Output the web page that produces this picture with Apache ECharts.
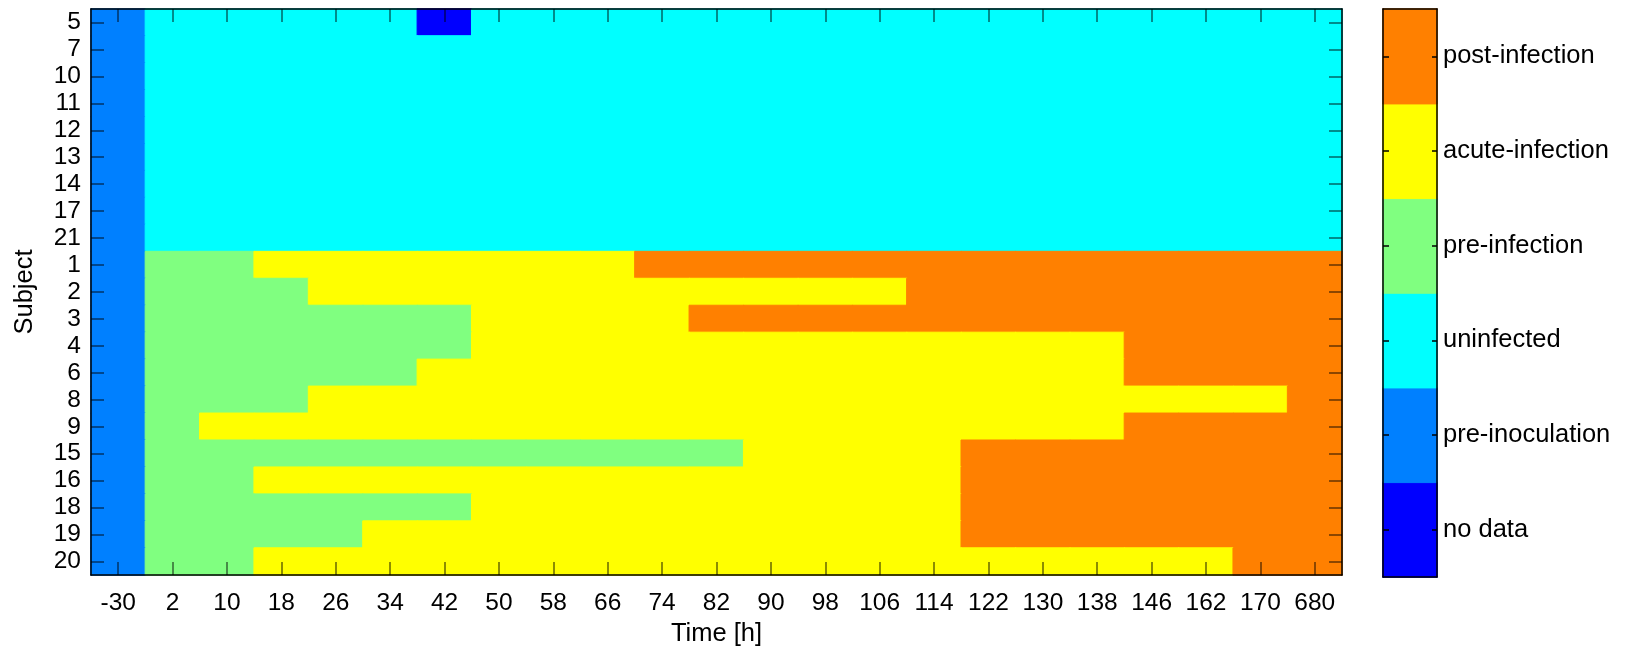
<!DOCTYPE html>
<html><head><meta charset="utf-8">
<script src="https://cdn.jsdelivr.net/npm/echarts@6/dist/echarts.min.js"></script>
<style>html,body{margin:0;padding:0;background:#fff}#c{width:1631px;height:646px}</style>
</head><body><div id="c"></div>
<script>
const timeLabels = ['-30','2','10','18','26','34','42','50','58','66','74','82','90','98','106','114','122','130','138','146','162','170','680'];
const subjects = ['5','7','10','11','12','13','14','17','21','1','2','3','4','6','8','9','15','16','18','19','20'];
const stateNames = ['no data','pre-inoculation','uninfected','pre-infection','acute-infection','post-infection'];
const stateColors = ['#0000FF','#0080FF','#00FFFF','#80FF80','#FFFF00','#FF8000'];

// state codes: 0 no data, 1 pre-inoculation, 2 uninfected, 3 pre-infection, 4 acute-infection, 5 post-infection
const s5  = [1,2,2,2,2,2,0,2,2,2,2,2,2,2,2,2,2,2,2,2,2,2,2];
const s7  = [1,2,2,2,2,2,2,2,2,2,2,2,2,2,2,2,2,2,2,2,2,2,2];
const s10 = [1,2,2,2,2,2,2,2,2,2,2,2,2,2,2,2,2,2,2,2,2,2,2];
const s11 = [1,2,2,2,2,2,2,2,2,2,2,2,2,2,2,2,2,2,2,2,2,2,2];
const s12 = [1,2,2,2,2,2,2,2,2,2,2,2,2,2,2,2,2,2,2,2,2,2,2];
const s13 = [1,2,2,2,2,2,2,2,2,2,2,2,2,2,2,2,2,2,2,2,2,2,2];
const s14 = [1,2,2,2,2,2,2,2,2,2,2,2,2,2,2,2,2,2,2,2,2,2,2];
const s17 = [1,2,2,2,2,2,2,2,2,2,2,2,2,2,2,2,2,2,2,2,2,2,2];
const s21 = [1,2,2,2,2,2,2,2,2,2,2,2,2,2,2,2,2,2,2,2,2,2,2];
const s1  = [1,3,3,4,4,4,4,4,4,4,5,5,5,5,5,5,5,5,5,5,5,5,5];
const s2  = [1,3,3,3,4,4,4,4,4,4,4,4,4,4,4,5,5,5,5,5,5,5,5];
const s3  = [1,3,3,3,3,3,3,4,4,4,4,5,5,5,5,5,5,5,5,5,5,5,5];
const s4  = [1,3,3,3,3,3,3,4,4,4,4,4,4,4,4,4,4,4,4,5,5,5,5];
const s6  = [1,3,3,3,3,3,4,4,4,4,4,4,4,4,4,4,4,4,4,5,5,5,5];
const s8  = [1,3,3,3,4,4,4,4,4,4,4,4,4,4,4,4,4,4,4,4,4,4,5];
const s9  = [1,3,4,4,4,4,4,4,4,4,4,4,4,4,4,4,4,4,4,5,5,5,5];
const s15 = [1,3,3,3,3,3,3,3,3,3,3,3,4,4,4,4,5,5,5,5,5,5,5];
const s16 = [1,3,3,4,4,4,4,4,4,4,4,4,4,4,4,4,5,5,5,5,5,5,5];
const s18 = [1,3,3,3,3,3,3,4,4,4,4,4,4,4,4,4,5,5,5,5,5,5,5];
const s19 = [1,3,3,3,3,4,4,4,4,4,4,4,4,4,4,4,5,5,5,5,5,5,5];
const s20 = [1,3,3,4,4,4,4,4,4,4,4,4,4,4,4,4,4,4,4,4,4,5,5];

const rows = [s5,s7,s10,s11,s12,s13,s14,s17,s21,s1,s2,s3,s4,s6,s8,s9,s15,s16,s18,s19,s20];

const cell = v => ({ value: v, itemStyle: { borderColor: stateColors[v[2]], borderWidth: 1 } });
const heat = [];
rows.forEach((r, yi) => r.forEach((v, xi) => heat.push(cell([xi, yi, v]))));
const barData = stateNames.map((n, i) => cell([0, i, i]));

const FONT = 'Liberation Sans, Arial, sans-serif';
const tickStyle = { color: 'rgba(0,0,0,0.6)', width: 1.5 };
const lineStyle = { color: '#000', width: 1.5 };
const TICK = 24.5, NAME = 25.5;
const innerTick = (len, ls) => ({ show: true, inside: true, alignWithLabel: true, interval: 0, length: len, lineStyle: ls });

const chart = echarts.init(document.getElementById('c'), null, { renderer: 'canvas' });
chart.setOption({
  animation: false,
  backgroundColor: '#fff',
  grid: [
    { left: 91, top: 9, width: 1251, height: 566, outerBoundsMode: 'none', containLabel: false },
    { left: 1383, top: 9, width: 54, height: 568, outerBoundsMode: 'none', containLabel: false }
  ],
  xAxis: [
    { type: 'category', gridIndex: 0, data: timeLabels, position: 'bottom', zlevel: 1, z: 10,
      axisLine: { show: true, lineStyle }, splitLine: { show: false },
      axisTick: innerTick(13, tickStyle),
      axisLabel: { fontSize: TICK, color: '#000', fontFamily: FONT, margin: 16, interval: 0 },
      name: 'Time [h]', nameLocation: 'middle', nameGap: 44,
      nameTextStyle: { fontSize: NAME, color: '#000', fontFamily: FONT } },
    { type: 'category', gridIndex: 0, data: timeLabels, position: 'top', zlevel: 1, z: 10,
      axisLine: { show: true, lineStyle }, splitLine: { show: false },
      axisTick: innerTick(13, tickStyle),
      axisLabel: { show: false } },
    { type: 'category', gridIndex: 1, data: ['c'], position: 'bottom', zlevel: 1, z: 10,
      axisLine: { show: true, lineStyle }, axisTick: { show: false }, axisLabel: { show: false } },
    { type: 'category', gridIndex: 1, data: ['c'], position: 'top', zlevel: 1, z: 10,
      axisLine: { show: true, lineStyle }, axisTick: { show: false }, axisLabel: { show: false } }
  ],
  yAxis: [
    { type: 'category', gridIndex: 0, data: subjects, inverse: true, position: 'left', zlevel: 1, z: 10,
      axisLine: { show: true, lineStyle }, splitLine: { show: false },
      axisTick: innerTick(13, tickStyle),
      axisLabel: { fontSize: TICK, color: '#000', fontFamily: FONT, margin: 10, interval: 0 },
      name: 'Subject', nameLocation: 'middle', nameGap: 53,
      nameTextStyle: { fontSize: NAME, color: '#000', fontFamily: FONT } },
    { type: 'category', gridIndex: 0, data: subjects, inverse: true, position: 'right', zlevel: 1, z: 10,
      axisLine: { show: true, lineStyle }, splitLine: { show: false },
      axisTick: innerTick(13, tickStyle),
      axisLabel: { show: false } },
    { type: 'category', gridIndex: 1, data: stateNames, position: 'right', zlevel: 1, z: 10,
      axisLine: { show: true, lineStyle }, splitLine: { show: false },
      axisTick: innerTick(5, { color: '#000', width: 1.5 }),
      axisLabel: { fontSize: NAME, color: '#000', fontFamily: FONT, margin: 6, interval: 0 } },
    { type: 'category', gridIndex: 1, data: stateNames, position: 'left', zlevel: 1, z: 10,
      axisLine: { show: true, lineStyle }, splitLine: { show: false },
      axisTick: innerTick(6, { color: '#000', width: 1.5 }),
      axisLabel: { show: false } }
  ],
  visualMap: {
    type: 'piecewise', show: false, dimension: 2, seriesIndex: [0, 1],
    pieces: stateColors.map((c, i) => ({ value: i, color: c }))
  },
  series: [
    { type: 'heatmap', xAxisIndex: 0, yAxisIndex: 0, data: heat, emphasis: { disabled: true }, progressive: 0 },
    { type: 'heatmap', xAxisIndex: 2, yAxisIndex: 2, data: barData, emphasis: { disabled: true }, progressive: 0 }
  ]
});
</script></body></html>
